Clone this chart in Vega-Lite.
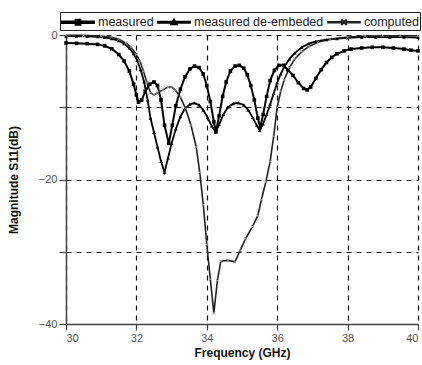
{
  "$schema": "https://vega.github.io/schema/vega-lite/v6.json",
  "width": 352,
  "height": 289,
  "autosize": {"type": "none"},
  "padding": {"left": 66, "top": 35, "right": 4, "bottom": 41},
  "background": "white",
  "config": {
    "view": {"stroke": null},
    "font": "Liberation Sans",
    "axis": {
      "labelFont": "Liberation Sans",
      "titleFont": "Liberation Sans",
      "labelColor": "#555",
      "labelFontSize": 11,
      "titleFontSize": 12,
      "titleFontWeight": "bold",
      "titleColor": "#111",
      "domainColor": "#444",
      "domainWidth": 1.5,
      "tickColor": "#444",
      "tickWidth": 1.2,
      "grid": true,
      "gridColor": "#111",
      "gridDash": [5, 5],
      "gridWidth": 1.2,
      "gridOpacity": 1
    }
  },
  "data": {
    "values": [
      {"series": "measured", "f": 30.0, "db": -1.1},
      {"series": "measured", "f": 30.3, "db": -1.15},
      {"series": "measured", "f": 30.6, "db": -1.2},
      {"series": "measured", "f": 30.9, "db": -1.3},
      {"series": "measured", "f": 31.1, "db": -1.5},
      {"series": "measured", "f": 31.3, "db": -1.9},
      {"series": "measured", "f": 31.5, "db": -2.7},
      {"series": "measured", "f": 31.65, "db": -3.6},
      {"series": "measured", "f": 31.8, "db": -5.0},
      {"series": "measured", "f": 31.92, "db": -6.8},
      {"series": "measured", "f": 32.0, "db": -8.3},
      {"series": "measured", "f": 32.06, "db": -9.3},
      {"series": "measured", "f": 32.15, "db": -9.0},
      {"series": "measured", "f": 32.25, "db": -7.8},
      {"series": "measured", "f": 32.38, "db": -6.8},
      {"series": "measured", "f": 32.5, "db": -6.5},
      {"series": "measured", "f": 32.6, "db": -7.0},
      {"series": "measured", "f": 32.7, "db": -9.0},
      {"series": "measured", "f": 32.8, "db": -12.5},
      {"series": "measured", "f": 32.92, "db": -15.0},
      {"series": "measured", "f": 33.02, "db": -12.5},
      {"series": "measured", "f": 33.12, "db": -9.8},
      {"series": "measured", "f": 33.25, "db": -7.5},
      {"series": "measured", "f": 33.38, "db": -5.8},
      {"series": "measured", "f": 33.52, "db": -4.7},
      {"series": "measured", "f": 33.65, "db": -4.3},
      {"series": "measured", "f": 33.78, "db": -4.5},
      {"series": "measured", "f": 33.9, "db": -5.4},
      {"series": "measured", "f": 34.0, "db": -7.0},
      {"series": "measured", "f": 34.1, "db": -9.2},
      {"series": "measured", "f": 34.2, "db": -12.0},
      {"series": "measured", "f": 34.26, "db": -13.4},
      {"series": "measured", "f": 34.35, "db": -11.2},
      {"series": "measured", "f": 34.45, "db": -8.5},
      {"series": "measured", "f": 34.55, "db": -6.5},
      {"series": "measured", "f": 34.67, "db": -5.0},
      {"series": "measured", "f": 34.8, "db": -4.3},
      {"series": "measured", "f": 34.92, "db": -4.2},
      {"series": "measured", "f": 35.05, "db": -4.6},
      {"series": "measured", "f": 35.15, "db": -5.5},
      {"series": "measured", "f": 35.25, "db": -7.0},
      {"series": "measured", "f": 35.35, "db": -9.0},
      {"series": "measured", "f": 35.45, "db": -11.5},
      {"series": "measured", "f": 35.52, "db": -12.8},
      {"series": "measured", "f": 35.6, "db": -11.0},
      {"series": "measured", "f": 35.7, "db": -8.5},
      {"series": "measured", "f": 35.8, "db": -6.3},
      {"series": "measured", "f": 35.92, "db": -4.9},
      {"series": "measured", "f": 36.05, "db": -4.2},
      {"series": "measured", "f": 36.18, "db": -4.2},
      {"series": "measured", "f": 36.3, "db": -4.8},
      {"series": "measured", "f": 36.45, "db": -5.6},
      {"series": "measured", "f": 36.6, "db": -6.6},
      {"series": "measured", "f": 36.75, "db": -7.4},
      {"series": "measured", "f": 36.85, "db": -7.6},
      {"series": "measured", "f": 36.95, "db": -7.2},
      {"series": "measured", "f": 37.1, "db": -6.0},
      {"series": "measured", "f": 37.25, "db": -4.8},
      {"series": "measured", "f": 37.4, "db": -3.8},
      {"series": "measured", "f": 37.55, "db": -3.1},
      {"series": "measured", "f": 37.7, "db": -2.6},
      {"series": "measured", "f": 37.9, "db": -2.2},
      {"series": "measured", "f": 38.1, "db": -1.95},
      {"series": "measured", "f": 38.4, "db": -1.8},
      {"series": "measured", "f": 38.7, "db": -1.7},
      {"series": "measured", "f": 39.0, "db": -1.7},
      {"series": "measured", "f": 39.3, "db": -1.8},
      {"series": "measured", "f": 39.6, "db": -1.95},
      {"series": "measured", "f": 39.8, "db": -2.1},
      {"series": "measured", "f": 40.0, "db": -2.2},

      {"series": "measured de-embeded", "f": 30.0, "db": -0.15},
      {"series": "measured de-embeded", "f": 30.3, "db": -0.15},
      {"series": "measured de-embeded", "f": 30.6, "db": -0.2},
      {"series": "measured de-embeded", "f": 30.9, "db": -0.25},
      {"series": "measured de-embeded", "f": 31.1, "db": -0.35},
      {"series": "measured de-embeded", "f": 31.3, "db": -0.5},
      {"series": "measured de-embeded", "f": 31.5, "db": -0.8},
      {"series": "measured de-embeded", "f": 31.65, "db": -1.2},
      {"series": "measured de-embeded", "f": 31.8, "db": -1.8},
      {"series": "measured de-embeded", "f": 31.92, "db": -2.6},
      {"series": "measured de-embeded", "f": 32.02, "db": -3.5},
      {"series": "measured de-embeded", "f": 32.12, "db": -4.8},
      {"series": "measured de-embeded", "f": 32.22, "db": -6.5},
      {"series": "measured de-embeded", "f": 32.32, "db": -9.0},
      {"series": "measured de-embeded", "f": 32.4, "db": -11.5},
      {"series": "measured de-embeded", "f": 32.5, "db": -13.5},
      {"series": "measured de-embeded", "f": 32.6, "db": -15.5},
      {"series": "measured de-embeded", "f": 32.7, "db": -17.5},
      {"series": "measured de-embeded", "f": 32.8, "db": -19.0},
      {"series": "measured de-embeded", "f": 32.9, "db": -17.0},
      {"series": "measured de-embeded", "f": 33.0, "db": -15.0},
      {"series": "measured de-embeded", "f": 33.12, "db": -13.0},
      {"series": "measured de-embeded", "f": 33.25, "db": -11.3},
      {"series": "measured de-embeded", "f": 33.38, "db": -10.2},
      {"series": "measured de-embeded", "f": 33.52, "db": -9.6},
      {"series": "measured de-embeded", "f": 33.65, "db": -9.4},
      {"series": "measured de-embeded", "f": 33.78, "db": -9.7},
      {"series": "measured de-embeded", "f": 33.9, "db": -10.4},
      {"series": "measured de-embeded", "f": 34.02, "db": -11.4},
      {"series": "measured de-embeded", "f": 34.14, "db": -12.6},
      {"series": "measured de-embeded", "f": 34.25, "db": -13.4},
      {"series": "measured de-embeded", "f": 34.35, "db": -12.4},
      {"series": "measured de-embeded", "f": 34.47, "db": -11.0},
      {"series": "measured de-embeded", "f": 34.6, "db": -10.0},
      {"series": "measured de-embeded", "f": 34.75, "db": -9.5},
      {"series": "measured de-embeded", "f": 34.9, "db": -9.4},
      {"series": "measured de-embeded", "f": 35.05, "db": -9.7},
      {"series": "measured de-embeded", "f": 35.18, "db": -10.4},
      {"series": "measured de-embeded", "f": 35.3, "db": -11.4},
      {"series": "measured de-embeded", "f": 35.42, "db": -12.5},
      {"series": "measured de-embeded", "f": 35.5, "db": -13.2},
      {"series": "measured de-embeded", "f": 35.6, "db": -12.3},
      {"series": "measured de-embeded", "f": 35.7, "db": -11.0},
      {"series": "measured de-embeded", "f": 35.8, "db": -9.6},
      {"series": "measured de-embeded", "f": 35.9, "db": -8.1},
      {"series": "measured de-embeded", "f": 36.0, "db": -6.6},
      {"series": "measured de-embeded", "f": 36.1, "db": -5.4},
      {"series": "measured de-embeded", "f": 36.2, "db": -4.4},
      {"series": "measured de-embeded", "f": 36.35, "db": -3.3},
      {"series": "measured de-embeded", "f": 36.5, "db": -2.5},
      {"series": "measured de-embeded", "f": 36.7, "db": -1.7},
      {"series": "measured de-embeded", "f": 36.9, "db": -1.2},
      {"series": "measured de-embeded", "f": 37.1, "db": -0.9},
      {"series": "measured de-embeded", "f": 37.4, "db": -0.65},
      {"series": "measured de-embeded", "f": 37.7, "db": -0.5},
      {"series": "measured de-embeded", "f": 38.0, "db": -0.4},
      {"series": "measured de-embeded", "f": 38.4, "db": -0.3},
      {"series": "measured de-embeded", "f": 38.8, "db": -0.3},
      {"series": "measured de-embeded", "f": 39.2, "db": -0.3},
      {"series": "measured de-embeded", "f": 39.6, "db": -0.3},
      {"series": "measured de-embeded", "f": 40.0, "db": -0.35},

      {"series": "computed", "f": 30.0, "db": -0.05},
      {"series": "computed", "f": 30.5, "db": -0.05},
      {"series": "computed", "f": 31.0, "db": -0.15},
      {"series": "computed", "f": 31.3, "db": -0.3},
      {"series": "computed", "f": 31.5, "db": -0.6},
      {"series": "computed", "f": 31.7, "db": -1.1},
      {"series": "computed", "f": 31.85, "db": -1.7},
      {"series": "computed", "f": 32.0, "db": -2.7},
      {"series": "computed", "f": 32.1, "db": -3.6},
      {"series": "computed", "f": 32.2, "db": -5.0},
      {"series": "computed", "f": 32.3, "db": -6.6},
      {"series": "computed", "f": 32.4, "db": -8.0},
      {"series": "computed", "f": 32.5, "db": -8.3},
      {"series": "computed", "f": 32.6, "db": -8.0},
      {"series": "computed", "f": 32.75, "db": -7.6},
      {"series": "computed", "f": 32.9, "db": -7.2},
      {"series": "computed", "f": 33.0, "db": -7.2},
      {"series": "computed", "f": 33.1, "db": -7.6},
      {"series": "computed", "f": 33.25, "db": -8.6},
      {"series": "computed", "f": 33.4, "db": -10.2},
      {"series": "computed", "f": 33.55, "db": -12.5},
      {"series": "computed", "f": 33.7, "db": -15.5},
      {"series": "computed", "f": 33.8, "db": -19.0},
      {"series": "computed", "f": 33.9, "db": -23.5},
      {"series": "computed", "f": 34.0, "db": -29.0},
      {"series": "computed", "f": 34.1, "db": -33.8},
      {"series": "computed", "f": 34.2, "db": -38.5},
      {"series": "computed", "f": 34.3, "db": -34.0},
      {"series": "computed", "f": 34.4, "db": -31.3},
      {"series": "computed", "f": 34.6, "db": -31.2},
      {"series": "computed", "f": 34.8, "db": -31.4},
      {"series": "computed", "f": 34.95, "db": -29.8},
      {"series": "computed", "f": 35.1, "db": -28.2},
      {"series": "computed", "f": 35.3, "db": -26.5},
      {"series": "computed", "f": 35.45, "db": -25.0},
      {"series": "computed", "f": 35.55, "db": -22.8},
      {"series": "computed", "f": 35.68, "db": -20.3},
      {"series": "computed", "f": 35.8, "db": -17.5},
      {"series": "computed", "f": 35.9, "db": -14.0},
      {"series": "computed", "f": 36.0, "db": -10.0},
      {"series": "computed", "f": 36.1, "db": -7.8},
      {"series": "computed", "f": 36.2, "db": -6.2},
      {"series": "computed", "f": 36.35, "db": -4.5},
      {"series": "computed", "f": 36.5, "db": -3.3},
      {"series": "computed", "f": 36.7, "db": -2.3},
      {"series": "computed", "f": 36.9, "db": -1.6},
      {"series": "computed", "f": 37.15, "db": -1.0},
      {"series": "computed", "f": 37.5, "db": -0.6},
      {"series": "computed", "f": 38.0, "db": -0.3},
      {"series": "computed", "f": 38.5, "db": -0.15},
      {"series": "computed", "f": 39.0, "db": -0.1},
      {"series": "computed", "f": 39.5, "db": -0.1},
      {"series": "computed", "f": 40.0, "db": -0.1}
    ]
  },
  "encoding": {
    "x": {
      "field": "f",
      "type": "quantitative",
      "scale": {"domain": [30, 40], "nice": false, "zero": false},
      "axis": {
        "title": "Frequency (GHz)",
        "values": [30, 32, 34, 36, 38, 40],
        "tickSize": 6,
        "labelPadding": 2,
        "titlePadding": 4
      }
    },
    "y": {
      "field": "db",
      "type": "quantitative",
      "scale": {"domain": [-40, 0], "nice": false},
      "axis": {
        "title": "Magnitude S11(dB)",
        "values": [0, -10, -20, -30, -40],
        "labelExpr": "datum.value % 20 === 0 ? datum.label : ''",
        "tickSize": 7,
        "labelPadding": 2,
        "titlePadding": 18
      }
    }
  },
  "layer": [
    {
      "mark": {"type": "line", "interpolate": "linear"},
      "encoding": {
        "color": {
          "field": "series",
          "type": "nominal",
          "scale": {
            "domain": ["measured", "measured de-embeded", "computed"],
            "range": ["#000000", "#000000", "#222222"]
          },
          "legend": {
            "orient": "none",
            "legendX": -6,
            "legendY": -23,
            "direction": "horizontal",
            "title": null,
            "strokeColor": "#222",
            "fillColor": "white",
            "padding": 1,
            "labelFont": "Liberation Sans",
            "labelFontSize": 12.5,
            "labelColor": "#222",
            "labelOffset": 19,
            "columnPadding": 0,
            "symbolType": "M-1,-0.08H3V0.08H-1Z",
            "symbolSize": 256,
            "symbolStrokeWidth": 0,
            "symbolFillColor": "#111",
            "encode": {
              "symbols": {
                "update": {
                  "shape": {"signal": "datum.value === 'measured' ? 'M-1,-0.09H3V0.09H-1Z M0.7,-0.3H1.3V0.3H0.7Z' : (datum.value === 'computed' ? 'M-1,-0.06H3V0.06H-1Z M0.75,-0.3L1,-0.06L1.25,-0.3L1.3,-0.25L1.06,0L1.3,0.25L1.25,0.3L1,0.06L0.75,0.3L0.7,0.25L0.94,0L0.7,-0.25Z' : 'M-1,-0.07H3V0.07H-1Z M0.66,0.25L1,-0.35L1.34,0.25Z')"},
                  "fill": {"value": "#111"},
                  "fillOpacity": {"value": 1},
                  "strokeWidth": {"value": 0}
                }
              }
            }
          }
        },
        "strokeWidth": {
          "field": "series",
          "type": "nominal",
          "scale": {
            "domain": ["measured", "measured de-embeded", "computed"],
            "range": [2, 1.6, 1.1]
          },
          "legend": null
        },
        "order": {"field": "f", "type": "quantitative"}
      }
    },
    {
      "transform": [{"filter": "datum.series === 'measured'"}],
      "mark": {"type": "point", "shape": "square", "filled": true, "color": "#000", "size": 13, "opacity": 1}
    },
    {
      "transform": [{"filter": "datum.series === 'measured de-embeded'"}],
      "mark": {"type": "point", "shape": "triangle-up", "filled": true, "color": "#000", "size": 13, "opacity": 1}
    },
    {
      "transform": [{"filter": "datum.series === 'computed'"}],
      "mark": {"type": "point", "shape": "M-1,-1L1,1M-1,1L1,-1", "filled": false, "color": "#999", "strokeWidth": 0.8, "size": 10, "opacity": 1}
    }
  ]
}
